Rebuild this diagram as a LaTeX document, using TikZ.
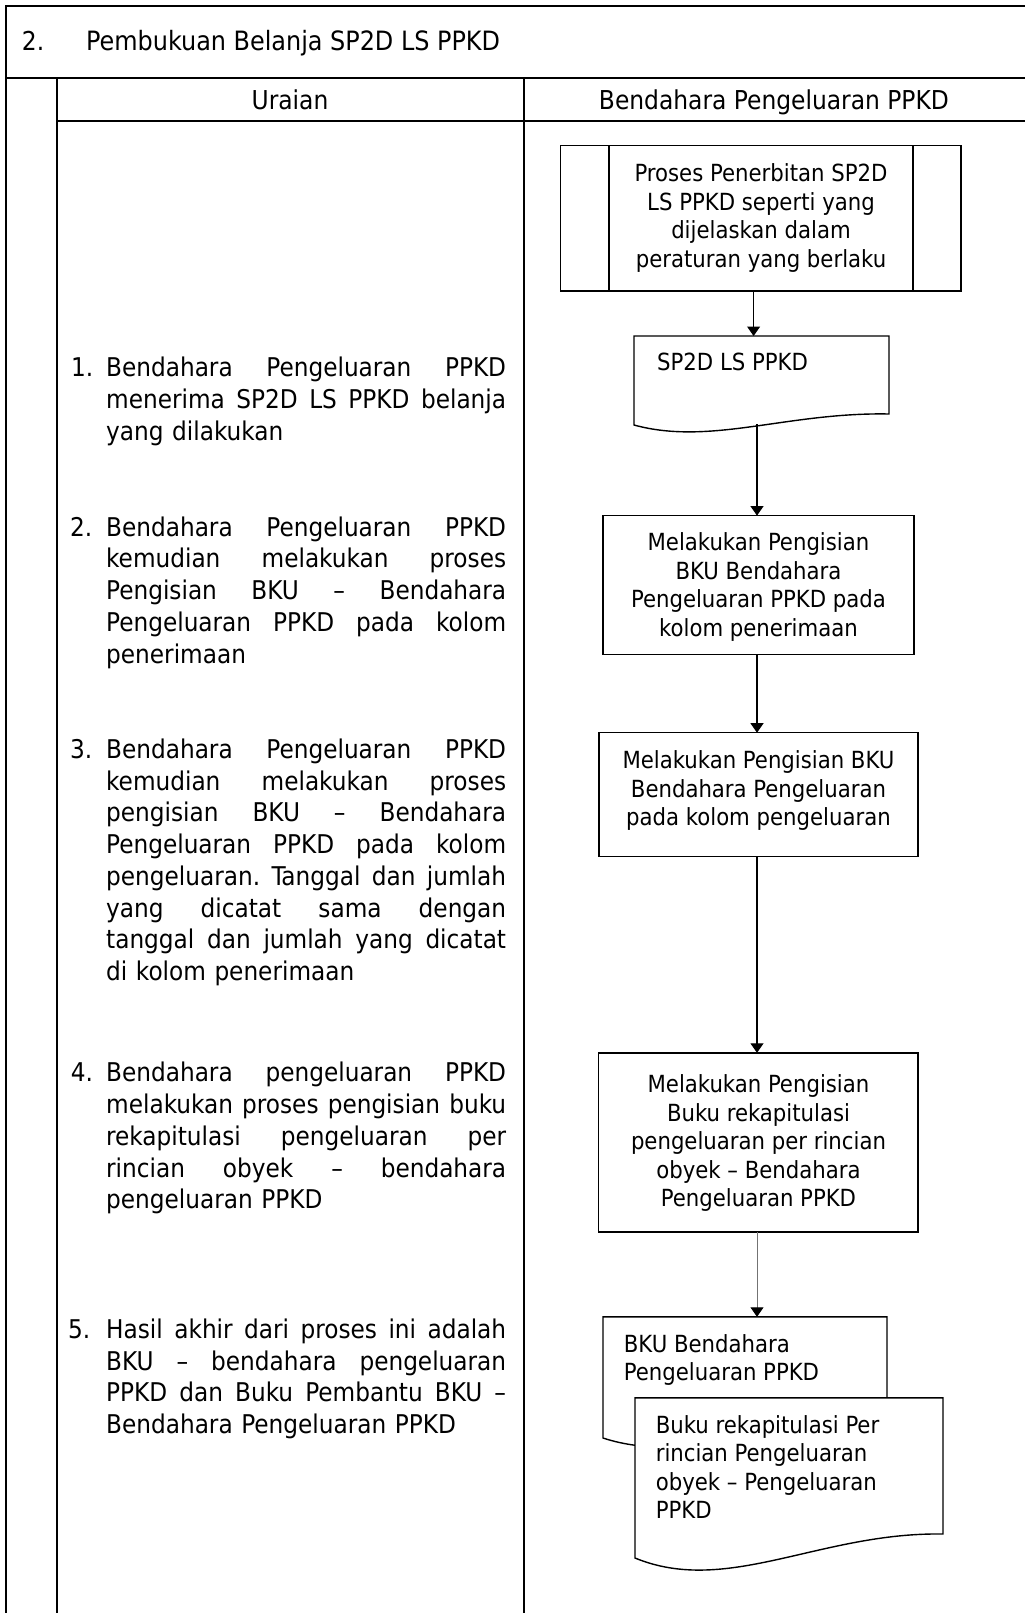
\documentclass[tikz,border=0pt]{standalone}
\usepackage{fontspec}
\setmainfont{DejaVu Sans Condensed}
\usetikzlibrary{arrows.meta}
\newcommand\jline[1]{\leavevmode\hbox to 400pt{\spaceskip=\fontdimen2\font plus 1fil\relax\xspaceskip=\spaceskip #1}}
\begin{document}
\begin{tikzpicture}[x=1pt,y=-1pt,
  frame/.style={line width=2pt,black},
  shp/.style={draw=black,line width=1.4pt,fill=white},
  box/.style={shp,inner sep=0pt,outer sep=0pt,anchor=north west},
  ghost/.style={inner sep=0pt,outer sep=0pt,anchor=north west},
  arr/.style={line width=1.1pt,-{Triangle[length=9.5pt,width=13pt]}},
  arrthin/.style={draw=black!55,line width=0.9pt,-{Triangle[length=9.5pt,width=13pt,color=black]}},
  big/.style={font=\fontsize{25.8}{31.7}\selectfont,inner sep=0pt},
  head/.style={font=\fontsize{26}{31.7}\selectfont,inner sep=0pt},
  small/.style={font=\fontsize{23.6}{28.5}\selectfont,inner sep=0pt},
  para/.style={big,anchor=north west,text width=400pt,align=left},
  ctext/.style={small,anchor=north,align=center},
  ltext/.style={small,anchor=north west,align=left},
]
\useasboundingbox (0,0) rectangle (1025,1613);

% table frame
\draw[frame] (6,1613) -- (6,5.7) -- (1025,5.7);
\draw[frame] (6,77.7) -- (1025,77.7);
\draw[frame] (56.7,120.7) -- (1025,120.7);
\draw[frame] (56.7,77.7) -- (56.7,1613);
\draw[frame] (523.7,77.7) -- (523.7,1613);

% headings
\node[head,anchor=base west] (secno) at (21.7,50.7) {2.};
\node[font=\fontsize{26.6}{31.7}\selectfont,inner sep=0pt,anchor=base west] (title) at (86,50.7) {Pembukuan Belanja SP2D LS PPKD};
\node[head,anchor=base] (hUraian) at (290,110) {Uraian};
\node[head,anchor=base] (hBend) at (774,110) {Bendahara Pengeluaran PPKD};

% left column
\node[big,anchor=base west] (n1) at (71,376.7) {1.};
\node[para] (u1) at (106,353.7) {\rule{0pt}{23pt}\jline{Bendahara Pengeluaran PPKD}\\\jline{menerima SP2D LS PPKD belanja}\\yang dilakukan};
\node[big,anchor=base west] (n2) at (70,536) {2.};
\node[para] (u2) at (106,513) {\rule{0pt}{23pt}\jline{Bendahara Pengeluaran PPKD}\\\jline{kemudian melakukan proses}\\\jline{Pengisian BKU – Bendahara}\\\jline{Pengeluaran PPKD pada kolom}\\penerimaan};
\node[big,anchor=base west] (n3) at (70,758.3) {3.};
\node[para] (u3) at (106,735.3) {\rule{0pt}{23pt}\jline{Bendahara Pengeluaran PPKD}\\\jline{kemudian melakukan proses}\\\jline{pengisian BKU – Bendahara}\\\jline{Pengeluaran PPKD pada kolom}\\\jline{pengeluaran. Tanggal dan jumlah}\\\jline{yang dicatat sama dengan}\\\jline{tanggal dan jumlah yang dicatat}\\di kolom penerimaan};
\node[big,anchor=base west] (n4) at (70.7,1081.7) {4.};
\node[para] (u4) at (106,1058.7) {\rule{0pt}{23pt}\jline{Bendahara pengeluaran PPKD}\\\jline{melakukan proses pengisian buku}\\\jline{rekapitulasi pengeluaran per}\\\jline{rincian obyek – bendahara}\\pengeluaran PPKD};
\node[big,anchor=base west] (n5) at (68,1338.3) {5.};
\node[para] (u5) at (106,1315.3) {\rule{0pt}{23pt}\jline{Hasil akhir dari proses ini adalah}\\\jline{BKU – bendahara pengeluaran}\\\jline{PPKD dan Buku Pembantu BKU –}\\Bendahara Pengeluaran PPKD};

% right column shapes
\node[box,minimum width=400.5pt,minimum height=145.4pt] (p1) at (560.5,145.6) {};
\draw[line width=1.4pt] ([xshift=48.5pt]p1.north west) -- ([xshift=48.5pt]p1.south west);
\draw[line width=1.4pt] ([xshift=-48pt]p1.north east) -- ([xshift=-48pt]p1.south east);
\node[ctext] (t1) at (761,161.3) {\rule{0pt}{20pt}Proses Penerbitan SP2D\\LS PPKD seperti yang\\dijelaskan dalam\\peraturan yang berlaku};

\node[ghost,minimum width=255pt,minimum height=88pt] (d1) at (634,336) {};
\path[shp] (634,336) -- (889,336) -- (889,414) .. controls (787,412) and (710.5,446) .. (634,425) -- cycle;
\node[small,anchor=base west] (t2) at (657,370.7) {SP2D LS PPKD};

\node[box,minimum width=311pt,minimum height=138.9pt] (b3) at (603,515.6) {};
\node[ctext] (t3) at (758.5,530.5) {\rule{0pt}{20pt}Melakukan Pengisian\\BKU Bendahara\\Pengeluaran PPKD pada\\kolom penerimaan};

\node[box,minimum width=319pt,minimum height=123.5pt] (b4) at (599,732.7) {};
\node[ctext] (t4) at (758.5,748.4) {\rule{0pt}{20pt}Melakukan Pengisian BKU\\Bendahara Pengeluaran\\pada kolom pengeluaran};

\node[box,minimum width=319.5pt,minimum height=179pt] (b5) at (598.5,1052.8) {};
\node[ctext] (t5) at (758.5,1072.5) {\rule{0pt}{20pt}Melakukan Pengisian\\Buku rekapitulasi\\pengeluaran per rincian\\obyek – Bendahara\\Pengeluaran PPKD};

\node[ghost,minimum width=284pt,minimum height=121pt] (d10) at (603,1316.8) {};
\path[shp] (603,1316.8) -- (887,1316.8) -- (887,1421) .. controls (773.4,1419) and (688.2,1466) .. (603,1438) -- cycle;
\node[ltext] (t6) at (623.7,1332) {\rule{0pt}{20pt}BKU Bendahara\\Pengeluaran PPKD};

\node[ghost,minimum width=308pt,minimum height=160pt] (d11) at (635,1397.8) {};
\path[shp] (635,1397.8) -- (943,1397.8) -- (943,1534) .. controls (819.8,1532) and (727.4,1596) .. (635,1558) -- cycle;
\node[ltext] (t7) at (655.6,1412.8) {\rule{0pt}{20pt}Buku rekapitulasi Per\\rincian Pengeluaran\\obyek – Pengeluaran\\PPKD};

% connectors
\coordinate (ax1) at (753.6,0);
\coordinate (ax) at (757,0);
\draw[arr] (p1.south -| ax1) -- (d1.north -| ax1);
\draw[arr] (d1.south -| ax) -- (b3.north -| ax);
\draw[arr] (b3.south -| ax) -- (b4.north -| ax);
\draw[arr] (b4.south -| ax) -- (b5.north -| ax);
\draw[arrthin] (b5.south -| ax) -- (d10.north -| ax);
\end{tikzpicture}
\end{document}
